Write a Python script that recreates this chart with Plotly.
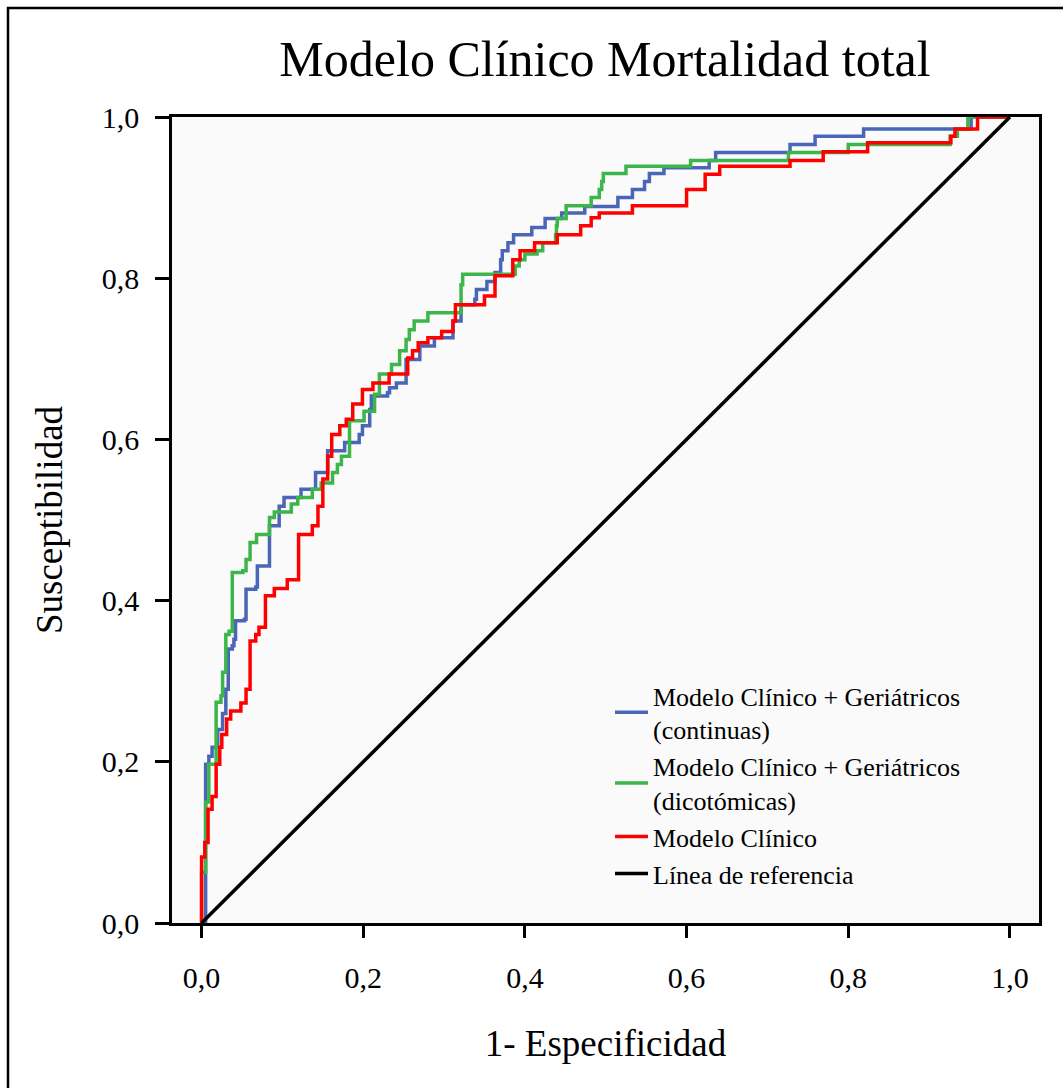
import plotly.graph_objects as go

# ROC step curves: points (1-specificity, sensitivity) at each riser top (drawn with 'hv')
cont_x = [0, 0.005, 0.009, 0.013, 0.020, 0.026, 0.030, 0.033, 0.038, 0.040, 0.042, 0.053, 0.055, 0.067, 0.069,
          0.084, 0.096, 0.102, 0.123, 0.141, 0.156, 0.177, 0.195, 0.199, 0.208, 0.210, 0.230, 0.2325, 0.241,
          0.253, 0.270, 0.288, 0.311, 0.321, 0.338, 0.340, 0.353, 0.363, 0.367, 0.370, 0.372, 0.379, 0.386,
          0.4085, 0.425, 0.4455, 0.474, 0.515, 0.533, 0.548, 0.554, 0.572, 0.628, 0.636, 0.728, 0.759, 0.819,
          0.952, 1.0]
cont_y = [0, 0.197, 0.207, 0.218, 0.240, 0.260, 0.290, 0.340, 0.344, 0.352, 0.375, 0.377, 0.414, 0.417, 0.443,
          0.493, 0.517, 0.528, 0.538, 0.559, 0.586, 0.596, 0.606, 0.617, 0.637, 0.654, 0.658, 0.664, 0.670,
          0.699, 0.716, 0.726, 0.747, 0.767, 0.774, 0.786, 0.796, 0.807, 0.807, 0.823, 0.834, 0.844, 0.854,
          0.863, 0.874, 0.881, 0.889, 0.900, 0.910, 0.920, 0.930, 0.937, 0.946, 0.956, 0.966, 0.976, 0.985,
          1.0, 1.0]

dic_x = [0, 0, 0.005, 0.009, 0.018, 0.024, 0.026, 0.030, 0.034, 0.038, 0.051, 0.055, 0.060, 0.068, 0.084,
         0.090, 0.111, 0.119, 0.137, 0.148, 0.162, 0.168, 0.173, 0.183, 0.201, 0.214, 0.220, 0.235, 0.245,
         0.253, 0.257, 0.263, 0.280, 0.321, 0.323, 0.388, 0.393, 0.400, 0.415, 0.422, 0.438, 0.439, 0.440,
         0.451, 0.451, 0.482, 0.492, 0.495, 0.497, 0.525, 0.605, 0.726, 0.800, 0.926, 0.935, 0.948, 1.0]
dic_y = [0, 0.063, 0.150, 0.197, 0.274, 0.282, 0.311, 0.358, 0.362, 0.435, 0.437, 0.451, 0.472, 0.482, 0.503,
         0.510, 0.520, 0.528, 0.538, 0.546, 0.559, 0.569, 0.579, 0.623, 0.635, 0.656, 0.681, 0.693, 0.710,
         0.724, 0.736, 0.747, 0.757, 0.792, 0.805, 0.815, 0.823, 0.830, 0.834, 0.844, 0.854, 0.865, 0.874,
         0.881, 0.890, 0.900, 0.910, 0.920, 0.930, 0.939, 0.946, 0.956, 0.966, 0.976, 0.985, 1.0, 1.0]

clin_x = [0, 0, 0.004, 0.008, 0.013, 0.018, 0.0225, 0.025, 0.031, 0.036, 0.0486, 0.055, 0.060, 0.067, 0.071,
          0.079, 0.090, 0.106, 0.120, 0.137, 0.144, 0.150, 0.156, 0.161, 0.171, 0.179, 0.187, 0.199, 0.212,
          0.232, 0.255, 0.261, 0.268, 0.280, 0.297, 0.311, 0.314, 0.350, 0.363, 0.385, 0.394, 0.412, 0.440,
          0.469, 0.482, 0.492, 0.533, 0.600, 0.623, 0.641, 0.728, 0.769, 0.824, 0.927, 0.932, 0.960, 1.0]
clin_y = [0, 0.082, 0.100, 0.141, 0.157, 0.197, 0.218, 0.234, 0.253, 0.263, 0.273, 0.290, 0.350, 0.358, 0.367,
          0.406, 0.415, 0.426, 0.482, 0.493, 0.517, 0.551, 0.579, 0.606, 0.617, 0.625, 0.644, 0.662, 0.670,
          0.681, 0.701, 0.710, 0.720, 0.726, 0.734, 0.747, 0.767, 0.778, 0.803, 0.823, 0.834, 0.844, 0.854,
          0.865, 0.875, 0.881, 0.890, 0.910, 0.929, 0.939, 0.946, 0.957, 0.968, 0.976, 0.985, 1.0, 1.0]

ref_x = [0, 1]
ref_y = [0, 1]

names = ["Modelo Clínico + Geriátricos<br>(continuas)",
         "Modelo Clínico + Geriátricos<br>(dicotómicas)",
         "Modelo Clínico",
         "Línea de referencia"]
colors = ["#4a66b6", "#3cb54a", "#ff0000", "#000000"]

tick_vals = [0, 0.2, 0.4, 0.6, 0.8, 1.0]
tick_text = ["0,0", "0,2", "0,4", "0,6", "0,8", "1,0"]

FONT = "Times New Roman, Liberation Serif, serif"

fig = go.Figure()
for xs, ys, nm, col in [(cont_x, cont_y, names[0], colors[0]),
                        (dic_x, dic_y, names[1], colors[1]),
                        (clin_x, clin_y, names[2], colors[2])]:
    fig.add_trace(go.Scatter(x=xs, y=ys, mode="lines", name=nm,
                             line=dict(color=col, width=3.5, shape="hv")))
fig.add_trace(go.Scatter(x=ref_x, y=ref_y, mode="lines", name=names[3],
                         line=dict(color=colors[3], width=3.5)))

W, H = 1063, 1088
L, R, T, B = 172, 24, 117, 165
pw, ph = W - L - R, H - T - B

def px2paper(px, py):
    return (px - L) / pw, (H - B - py) / ph

x0, y0 = px2paper(8, 8)
x1, y1 = px2paper(1063, 1088)
fig.add_shape(type="path", xref="paper", yref="paper",
              path=f"M {x0} {y1} L {x0} {y0} L {x1} {y0}",
              line=dict(color="black", width=2.5))

fig.update_layout(
    width=W, height=H,
    margin=dict(l=L, r=R, t=T, b=B),
    paper_bgcolor="white",
    plot_bgcolor="#fafafa",
    font=dict(family=FONT, color="black", size=24),
    title=dict(text="Modelo Clínico Mortalidad total", x=(605) / W, xanchor="center",
               y=1 - 58 / H, yanchor="middle", font=dict(size=50, family=FONT, color="black")),
    showlegend=True,
    legend=dict(x=(610 - L) / pw, y=(923 - 672) / ph, xanchor="left", yanchor="top",
                bgcolor="rgba(0,0,0,0)", font=dict(size=26, family=FONT, color="black"),
                itemwidth=33, tracegroupgap=0),
)
fig.update_xaxes(range=[-0.0366, 1.036], tickvals=tick_vals, ticktext=tick_text,
                 showgrid=False, zeroline=False, showline=True, linecolor="black", linewidth=2.5,
                 mirror=True, ticks="outside", ticklen=12, tickwidth=2.5, tickcolor="black",
                 ticklabelstandoff=14,
                 tickfont=dict(size=30, family=FONT),
                 title=dict(text="1- Especificidad", font=dict(size=37, family=FONT), standoff=38))
fig.update_yaxes(range=[0, 1.0], tickvals=tick_vals, ticktext=tick_text,
                 showgrid=False, zeroline=False, showline=True, linecolor="black", linewidth=2.5,
                 mirror=True, ticks="outside", ticklen=14, tickwidth=2.5, tickcolor="black",
                 ticklabelstandoff=10,
                 tickfont=dict(size=30, family=FONT),
                 title=dict(text="Susceptibilidad", font=dict(size=37, family=FONT), standoff=28))

fig.write_html("out.html")
